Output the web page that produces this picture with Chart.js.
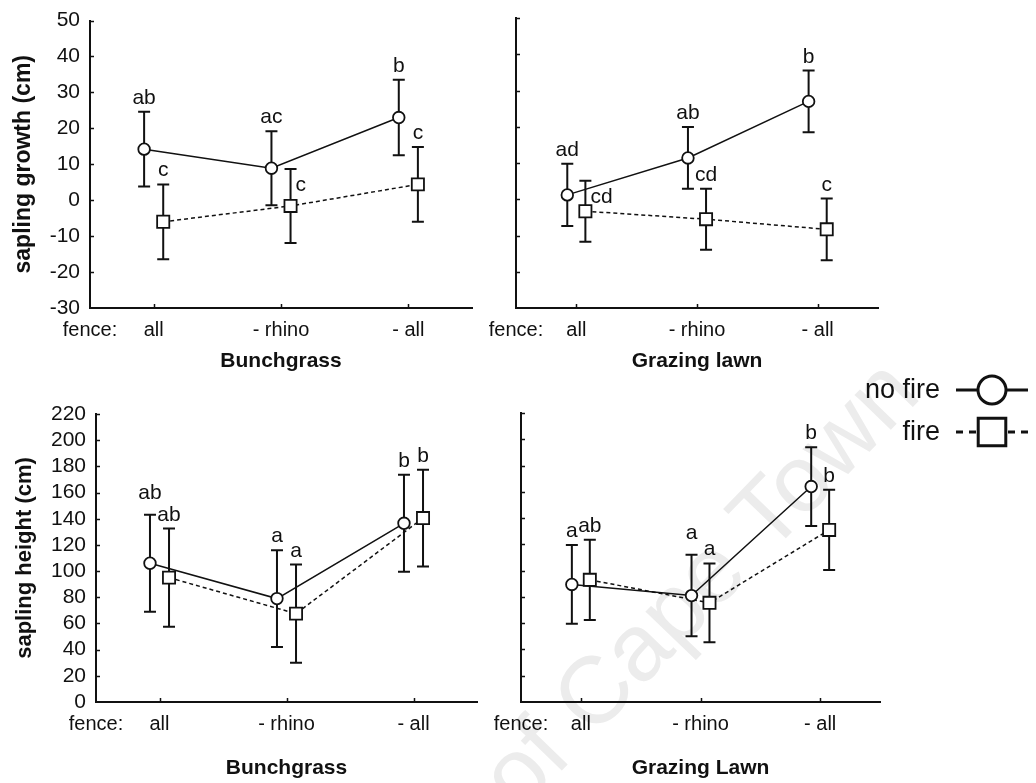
<!DOCTYPE html>
<html>
<head>
<meta charset="utf-8">
<script src="https://cdn.jsdelivr.net/npm/chart.js@4/dist/chart.umd.min.js"></script>
<style>
  html, body { margin: 0; padding: 0; background: #fff; }
  #stage { position: relative; width: 1036px; height: 783px; overflow: hidden; background: #fff; }
  #stage canvas { position: absolute; }
</style>
</head>
<body>
<div id="stage">
  <canvas id="mark" width="1036" height="783" style="left:0;top:0"></canvas>
  <canvas id="growthBunch"></canvas>
  <canvas id="growthLawn"></canvas>
  <canvas id="heightBunch"></canvas>
  <canvas id="heightLawn"></canvas>
</div>
<script>
// ---- categories and tick labels ----
const fenceTreatments = ['all', '- rhino', '- all'];
const fenceCaption = 'fence:';
const growthRange = { min: -30, max: 50, step: 10 };
const heightRange = { min: 0, max: 220, step: 20 };

// ---- sapling growth (cm), bunchgrass ----
const growthBunchNoFire = [14.2, 8.9, 23.0];
const growthBunchNoFireErr = [10.4, 10.3, 10.5];
const growthBunchNoFireLetters = ['ab', 'ac', 'b'];
const growthBunchFire = [-6.0, -1.6, 4.4];
const growthBunchFireErr = [10.4, 10.3, 10.4];
const growthBunchFireLetters = ['c', 'c', 'c'];

// ---- sapling growth (cm), grazing lawn ----
const growthLawnNoFire = [1.2, 11.4, 27.0];
const growthLawnNoFireErr = [8.6, 8.5, 8.5];
const growthLawnNoFireLetters = ['ad', 'ab', 'b'];
const growthLawnFire = [-3.3, -5.5, -8.3];
const growthLawnFireErr = [8.4, 8.4, 8.5];
const growthLawnFireLetters = ['cd', 'cd', 'c'];

// ---- sapling height (cm), bunchgrass ----
const heightBunchNoFire = [106, 79, 136.5];
const heightBunchNoFireErr = [37, 37, 37];
const heightBunchNoFireLetters = ['ab', 'a', 'b'];
const heightBunchFire = [95, 67.5, 140.5];
const heightBunchFireErr = [37.5, 37.5, 37];
const heightBunchFireLetters = ['ab', 'a', 'b'];

// ---- sapling height (cm), grazing lawn ----
const heightLawnNoFire = [89.5, 81, 164];
const heightLawnNoFireErr = [30, 31, 30];
const heightLawnNoFireLetters = ['a', 'a', 'b'];
const heightLawnFire = [93, 75.5, 131];
const heightLawnFireErr = [30.5, 30, 30.5];
const heightLawnFireLetters = ['ab', 'a', 'b'];

// ---- presentation ----
const ink = '#111';
const family = '"Liberation Sans", Arial, Helvetica, sans-serif';
const seriesShift = { noFire: -0.075, fire: 0.075 };

// where each significance letter sits relative to its error bar
const letterPlacement = {
  growthBunch: { noFire: ['above', 'above', 'above'], fire: ['above', 'beside', 'above'] },
  growthLawn:  { noFire: ['above', 'above', 'above'], fire: ['beside', 'above', 'above'] },
  heightBunch: { noFire: ['raised', 'above', 'above'], fire: ['above', 'above', 'above'] },
  heightLawn:  { noFire: ['above', 'raised', 'above'], fire: ['above', 'above', 'above'] }
};

// canvas boxes and the plot area each one holds (page pixels)
const panelBoxes = {
  growthBunch: { left: 0,   top: 0,   width: 500, height: 390, area: { left: 90,  top: 18,  right: 472, bottom: 308 } },
  growthLawn:  { left: 470, top: 0,   width: 430, height: 390, area: { left: 516, top: 18,  right: 878, bottom: 308 } },
  heightBunch: { left: 0,   top: 390, width: 500, height: 393, area: { left: 96,  top: 414, right: 477, bottom: 702 } },
  heightLawn:  { left: 470, top: 360, width: 566, height: 423, area: { left: 521, top: 413, right: 880, bottom: 702 } }
};

// ---- background mark ----
(function drawMark() {
  const c = document.getElementById('mark').getContext('2d');
  const size = 95;
  c.font = size + 'px ' + family;
  c.fillStyle = '#ececec';
  const lead = c.measureText('University of ').width;
  const cap = c.measureText('C').width;
  c.translate(592, 690);
  c.rotate(-46 * Math.PI / 180);
  c.fillText('University of Cape Town', -(lead + cap / 2), 0.36 * size);
})();

// ---- error bars, inward ticks and letters ----
const panelMarks = {
  id: 'panelMarks',
  beforeDatasetsDraw(chart) {
    const { ctx, scales: { x, y } } = chart;
    ctx.save();
    ctx.strokeStyle = ink;
    ctx.lineWidth = 1.5;
    ctx.beginPath();
    y.ticks.forEach(t => {
      if (t.value === y.min) return;
      const py = Math.round(y.getPixelForValue(t.value)) + 0.5;
      ctx.moveTo(x.left, py); ctx.lineTo(x.left + 4, py);
    });
    x.ticks.forEach(t => {
      if (t.value < 0) return;
      const px = Math.round(x.getPixelForValue(t.value)) + 0.5;
      ctx.moveTo(px, y.bottom); ctx.lineTo(px, y.bottom - 4);
    });
    ctx.stroke();

    ctx.lineWidth = 2;
    chart.data.datasets.forEach(ds => {
      ds.data.forEach((pt, i) => {
        const px = x.getPixelForValue(pt.x);
        const hi = y.getPixelForValue(pt.y + ds.errorBars[i]);
        const lo = y.getPixelForValue(pt.y - ds.errorBars[i]);
        ctx.beginPath();
        ctx.moveTo(px, hi); ctx.lineTo(px, lo);
        ctx.moveTo(px - 6, hi); ctx.lineTo(px + 6, hi);
        ctx.moveTo(px - 6, lo); ctx.lineTo(px + 6, lo);
        ctx.stroke();
      });
    });
    ctx.restore();
  },
  afterDatasetsDraw(chart, args, opts) {
    const { ctx, scales: { x, y } } = chart;
    ctx.save();
    ctx.fillStyle = ink;
    ctx.font = '21px ' + family;
    ctx.textBaseline = 'alphabetic';
    chart.data.datasets.forEach(ds => {
      const places = opts.placement[ds.kind];
      ds.data.forEach((pt, i) => {
        const px = x.getPixelForValue(pt.x);
        const hi = y.getPixelForValue(pt.y + ds.errorBars[i]);
        const place = places[i];
        if (place === 'beside') {
          ctx.textAlign = 'left';
          ctx.fillText(ds.letters[i], px + 5, hi + 22);
        } else {
          ctx.textAlign = 'center';
          ctx.fillText(ds.letters[i], px, hi - (place === 'raised' ? 16 : 8));
        }
      });
    });
    ctx.restore();
  }
};

// ---- series key (drawn beside the lower right panel) ----
const seriesKey = {
  id: 'seriesKey',
  afterDraw(chart, args, opts) {
    if (!opts.show) return;
    const ctx = chart.ctx;
    const box = panelBoxes.heightLawn;
    const rows = [{ ds: chart.data.datasets[0], y: 390 }, { ds: chart.data.datasets[1], y: 432 }];
    ctx.save();
    rows.forEach(row => {
      const ds = row.ds;
      const cy = row.y - box.top;
      const textRight = 940 - box.left;
      const mx = 992 - box.left;
      ctx.fillStyle = ink;
      ctx.font = '27px ' + family;
      ctx.textAlign = 'right';
      ctx.textBaseline = 'middle';
      ctx.fillText(ds.label, textRight, cy + 1);
      ctx.strokeStyle = ink;
      ctx.lineWidth = 2.8;
      ctx.setLineDash(ds.kind === 'fire' ? [7, 6] : []);
      ctx.beginPath();
      ctx.moveTo(mx - 36, cy); ctx.lineTo(mx + 36, cy);
      ctx.stroke();
      ctx.setLineDash([]);
      ctx.fillStyle = '#fff';
      ctx.lineWidth = 3;
      Chart.helpers.drawPoint(ctx, {
        pointStyle: ds.pointStyle,
        radius: ds.kind === 'fire' ? 19.5 : 14,
        borderWidth: 3,
        rotation: 0
      }, mx, cy);
    });
    ctx.restore();
  }
};

function series(kind, values, errs, letters) {
  const noFire = kind === 'noFire';
  return {
    label: noFire ? 'no fire' : 'fire',
    kind: kind,
    data: values.map((v, i) => ({ x: i + seriesShift[kind], y: v })),
    errorBars: errs,
    letters: letters,
    borderColor: ink,
    borderWidth: 1.5,
    borderDash: noFire ? [] : [4, 3],
    pointStyle: noFire ? 'circle' : 'rect',
    pointRadius: noFire ? 5.8 : 8.6,
    pointBackgroundColor: '#fff',
    pointBorderColor: ink,
    pointBorderWidth: 1.8,
    tension: 0,
    fill: false
  };
}

function makePanel(id, spec) {
  const box = panelBoxes[id];
  const a = box.area;
  const canvas = document.getElementById(id);
  canvas.width = box.width;
  canvas.height = box.height;
  canvas.style.left = box.left + 'px';
  canvas.style.top = box.top + 'px';
  const yWidth = a.left - box.left;
  const xHeight = box.top + box.height - a.bottom;

  return new Chart(canvas, {
    type: 'line',
    data: {
      datasets: [
        series('noFire', spec.noFire, spec.noFireErr, spec.noFireLetters),
        series('fire', spec.fire, spec.fireErr, spec.fireLetters)
      ]
    },
    options: {
      responsive: false,
      animation: false,
      devicePixelRatio: 1,
      events: [],
      layout: { padding: { top: a.top - box.top, right: box.left + box.width - a.right, left: 0, bottom: 0 } },
      plugins: {
        legend: { display: false },
        tooltip: { enabled: false },
        panelMarks: { placement: letterPlacement[id] },
        seriesKey: { show: !!spec.key }
      },
      scales: {
        x: {
          type: 'linear',
          min: -0.5,
          max: 2.5,
          afterBuildTicks(s) { s.ticks = [-0.5, 0, 1, 2].map(v => ({ value: v })); },
          afterFit(s) { s.height = xHeight; },
          grid: { display: false, drawTicks: false },
          border: { display: true, color: ink, width: 2 },
          ticks: {
            autoSkip: false,
            maxRotation: 0,
            padding: 10,
            color: ink,
            font: { family: family, size: 20 },
            callback: v => (v < 0 ? fenceCaption : fenceTreatments[v])
          },
          title: {
            display: true,
            text: spec.title,
            color: ink,
            font: { family: family, size: 21, weight: 'bold' },
            padding: { top: 0, bottom: spec.titlePad }
          }
        },
        y: {
          min: spec.range.min,
          max: spec.range.max,
          afterFit(s) { s.width = yWidth; },
          grid: { display: false, drawTicks: false },
          border: { display: true, color: ink, width: 2 },
          ticks: {
            display: !!spec.yTitle,
            autoSkip: false,
            stepSize: spec.range.step,
            padding: 10,
            color: ink,
            font: { family: family, size: 21, lineHeight: 1 }
          },
          title: {
            display: !!spec.yTitle,
            text: spec.yTitle || '',
            color: ink,
            font: { family: family, size: spec.yTitleSize || 22, weight: 'bold' },
            padding: { top: spec.yTitlePad || 10, bottom: 0 }
          }
        }
      }
    },
    plugins: [panelMarks, seriesKey]
  });
}

makePanel('growthBunch', {
  noFire: growthBunchNoFire, noFireErr: growthBunchNoFireErr, noFireLetters: growthBunchNoFireLetters,
  fire: growthBunchFire, fireErr: growthBunchFireErr, fireLetters: growthBunchFireLetters,
  range: growthRange, title: 'Bunchgrass', titlePad: 16,
  yTitle: 'sapling growth (cm)', yTitleSize: 23, yTitlePad: 10
});
makePanel('growthLawn', {
  noFire: growthLawnNoFire, noFireErr: growthLawnNoFireErr, noFireLetters: growthLawnNoFireLetters,
  fire: growthLawnFire, fireErr: growthLawnFireErr, fireLetters: growthLawnFireLetters,
  range: growthRange, title: 'Grazing lawn', titlePad: 16
});
makePanel('heightBunch', {
  noFire: heightBunchNoFire, noFireErr: heightBunchNoFireErr, noFireLetters: heightBunchNoFireLetters,
  fire: heightBunchFire, fireErr: heightBunchFireErr, fireLetters: heightBunchFireLetters,
  range: heightRange, title: 'Bunchgrass', titlePad: 2,
  yTitle: 'sapling height (cm)', yTitleSize: 22, yTitlePad: 12
});
makePanel('heightLawn', {
  noFire: heightLawnNoFire, noFireErr: heightLawnNoFireErr, noFireLetters: heightLawnNoFireLetters,
  fire: heightLawnFire, fireErr: heightLawnFireErr, fireLetters: heightLawnFireLetters,
  range: heightRange, title: 'Grazing Lawn', titlePad: 2, key: true
});
</script>
</body>
</html>
